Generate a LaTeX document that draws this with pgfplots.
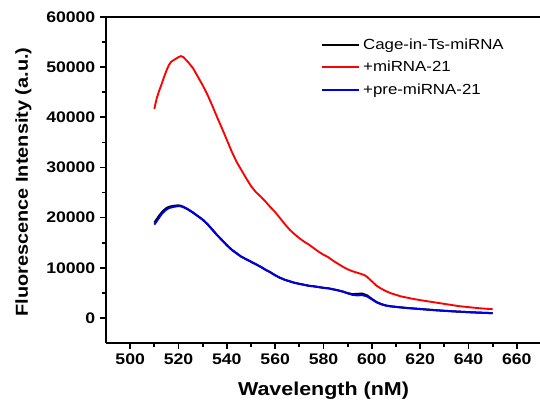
\documentclass[border=0pt]{standalone}
\usepackage{pgfplots}
\pgfplotsset{compat=1.18}
\usepackage{fontspec}
\setmainfont[FakeStretch=1.15]{Liberation Sans}
\begin{document}
\begin{tikzpicture}
\begin{axis}[
  scale only axis,
  width=326.25pt, height=244.5pt,
  xmin=490, xmax=670, ymin=-5000, ymax=60000,
  axis lines=left,
  axis line style={-, line width=1.5pt},
  xtick={500,520,...,660},
  ytick={0,10000,...,60000},
  minor x tick num=1, minor y tick num=1,
  tick align=outside,
  major tick length=4.5pt, minor tick length=3pt,
  every tick/.style={line width=1.3pt, black},
  scaled y ticks=false,
  /pgf/number format/1000 sep={},
  /pgf/number format/assume math mode=true,
  ticklabel style={font=\fontsize{11.5}{13}\selectfont\bfseries},
  xlabel={Wavelength (nM)},
  ylabel={Fluorescence Intensity (a.u.)},
  every axis x label/.style={at={(rel axis cs:0.5,0)}, anchor=center, yshift=-36pt, font=\fontsize{14}{16}\selectfont\bfseries},
  every axis y label/.style={at={(rel axis cs:0,0.5)}, xshift=-62pt, yshift=-1.5pt, rotate=90, anchor=center, font=\fontsize{13}{15}\selectfont\bfseries},
  legend style={at={(rel axis cs:0.494,0.943)}, anchor=north west, draw=none, fill=none,
    font=\fontsize{11}{13}\selectfont, row sep=3.5pt, inner sep=0pt},
  legend cell align=left,
  legend image code/.code={\draw[#1, line width=1.5pt] (0pt,0pt) -- (28pt,0pt);},
  clip=false,
]
\addplot[black, line width=1.5pt] coordinates {
(510,19000)(511,19700)(512,20400)(513,21000)(514,21500)(515,21900)(516,22150)(518,22350)(520,22450)(521,22350)(522,22150)(524,21650)(526,21000)(528,20300)(530,19600)(532,18700)(534,17600)(536,16500)(538,15500)(540,14500)(542,13600)(544,12900)(546,12200)(548,11700)(550,11200)(552,10700)(554,10200)(556,9600)(558,9100)(560,8500)(562,8000)(564,7600)(566,7300)(568,7000)(570,6800)(572,6600)(574,6400)(576,6300)(578,6150)(580,6000)(582,5900)(584,5700)(586,5500)(588,5250)(590,4950)(592,4750)(594,4800)(596,4850)(598,4500)(600,3800)(602,3150)(604,2750)(606,2450)(608,2300)(610,2200)(614,2000)(618,1850)(622,1700)(626,1550)(630,1420)(634,1300)(638,1200)(642,1100)(646,1020)(650,950)
};
\addlegendentry{Cage-in-Ts-miRNA}
\addplot[red, line width=1.4pt] coordinates {
(510,41700)(511,43800)(512,45300)(513,46600)(514,48000)(515,49300)(516,50400)(517,51100)(518,51400)(519,51700)(520,52000)(521,52200)(522,52000)(523,51500)(524,51000)(526,49800)(528,48100)(530,46400)(532,44500)(534,42300)(536,40000)(538,37800)(540,35500)(542,33200)(544,31150)(546,29500)(548,27850)(550,26300)(552,25100)(554,24200)(556,23200)(558,22100)(560,21100)(562,19900)(564,18700)(566,17600)(568,16700)(570,15900)(572,15200)(574,14600)(576,13900)(578,13200)(580,12600)(582,12100)(584,11400)(586,10800)(588,10200)(590,9700)(592,9300)(594,9000)(596,8700)(597,8500)(598,8200)(600,7300)(602,6400)(604,5800)(606,5300)(608,4900)(610,4600)(612,4300)(614,4100)(617,3800)(620,3550)(624,3250)(628,2950)(632,2650)(636,2350)(640,2150)(644,1950)(648,1800)(650,1750)
};
\addlegendentry{+miRNA-21}
\addplot[blue!90!black, line width=1.5pt] coordinates {
(510,18600)(511,19300)(512,20000)(513,20700)(514,21200)(515,21600)(516,21900)(518,22150)(520,22300)(521,22250)(522,22100)(524,21600)(526,21000)(528,20300)(530,19600)(532,18700)(534,17600)(536,16500)(538,15500)(540,14500)(542,13600)(544,12900)(546,12200)(548,11700)(550,11200)(552,10700)(554,10200)(556,9600)(558,9100)(560,8500)(562,8000)(564,7600)(566,7300)(568,7000)(570,6800)(572,6600)(574,6400)(576,6300)(578,6150)(580,6000)(582,5900)(584,5700)(586,5500)(588,5250)(590,4900)(592,4600)(594,4500)(596,4550)(598,4300)(600,3700)(602,3100)(604,2700)(606,2450)(608,2300)(610,2200)(614,2000)(618,1850)(622,1700)(626,1550)(630,1420)(634,1300)(638,1200)(642,1100)(646,1020)(650,950)
};
\addlegendentry{+pre-miRNA-21}
\draw[line width=1.5pt] (rel axis cs:0,1) -- (rel axis cs:1,1);
\coordinate (sw) at (rel axis cs:0,0);
\coordinate (ne) at (rel axis cs:1,1);
\end{axis}
\pgfresetboundingbox
\path[use as bounding box] ([xshift=-79.5pt,yshift=-46.5pt]sw) rectangle ([xshift=-0.75pt,yshift=12.75pt]ne);
\end{tikzpicture}
\end{document}
